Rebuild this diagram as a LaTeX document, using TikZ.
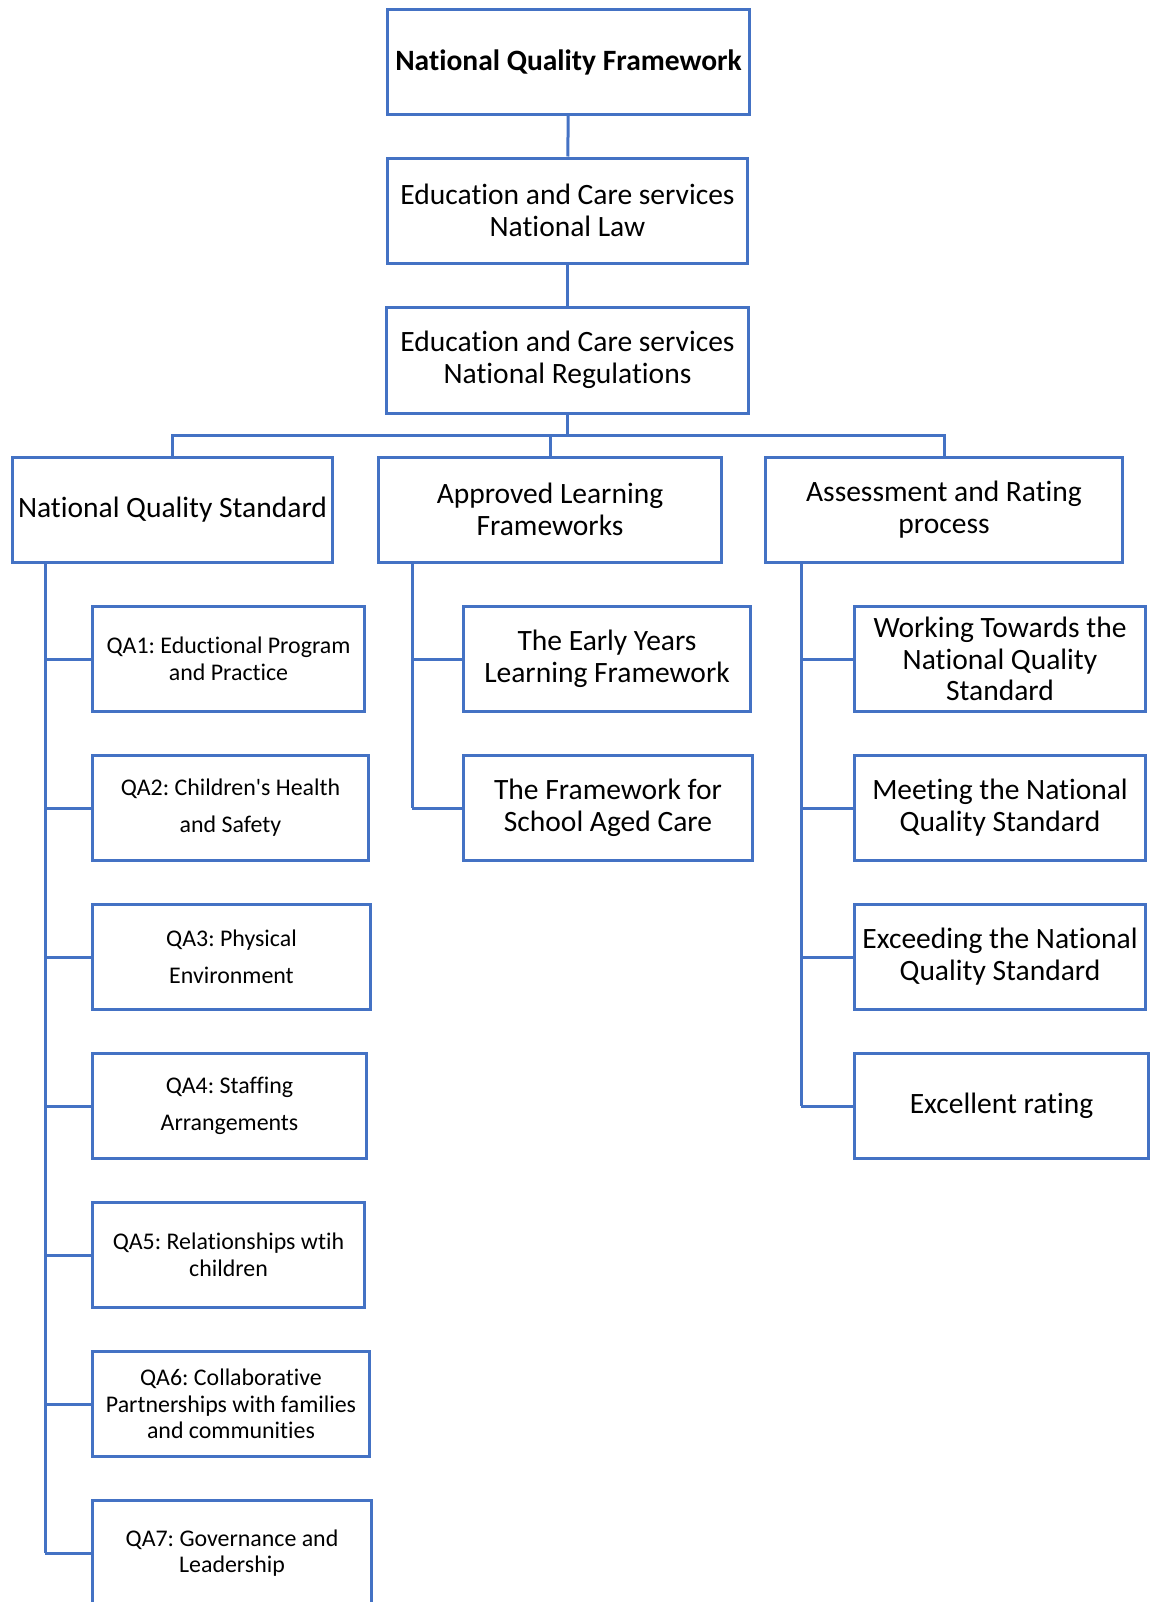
\documentclass[tikz,border=0pt]{standalone}
\usepackage{fontspec}
\setmainfont{Carlito}[Ligatures={TeXOff,CommonOff}]
\usepackage{xcolor}
\usetikzlibrary{positioning}
\definecolor{boxblue}{HTML}{4472C4}
\frenchspacing

\begin{document}
\begin{tikzpicture}[x=0.02cm,y=-0.02cm,
        box/.style={draw=boxblue,line width=0.06cm,fill=white,align=center,inner sep=0pt},
        boxsize/.style 2 args={minimum width=#1*0.02cm+2*0.02cm,minimum height=#2*0.02cm+3*0.02cm},
        link/.style={draw=boxblue,line width=0.06cm},
        bigtext/.style={font=\fontsize{16.8}{18.1}\selectfont},
        qatext/.style={font=\fontsize{13.6}{15.1}\selectfont},
        qawide/.style={font=\fontsize{13.6}{21}\selectfont}]
        \useasboundingbox (0,0) rectangle (1152,1602);

        \begin{scope}[every node/.append style={box,bigtext}]
            \node [boxsize={360}{102},font=\fontsize{16.8}{18.1}\selectfont\bfseries] (nqf) at (568.5,62) {National Quality Framework};
            \node [boxsize={358}{102}] (law) at (567.5,210.5) {Education and Care services\\National Law};
            \node [boxsize={360}{103}] (reg) at (567.5,360) {Education and Care services\\National Regulations};

            \node [boxsize={318}{102}] (nqs) at (172.5,509.5) {National Quality Standard};
            \node [boxsize={341}{102}] (alf) at (550,509.5) {Approved Learning\\Frameworks};
            \node [boxsize={355}{102}] (arp) at (944,509.5) {Assessment and Rating\\process};

            \node [boxsize={285}{102}] (eylf) at (607,659) {The Early Years\\Learning Framework};
            \node [boxsize={287}{102}] (fsac) at (608,808) {The Framework for\\School Aged Care};

            \node [boxsize={289}{102}] (r1) at (1000,659) {Working Towards the\\National Quality\\Standard};
            \node [boxsize={289}{102}] (r2) at (1000,808) {Meeting the National\\Quality Standard};
            \node [boxsize={289}{102}] (r3) at (1000,957) {Exceeding the National\\Quality Standard};
            \node [boxsize={292}{102}] (r4) at (1001.5,1106) {Excellent rating};
        \end{scope}

        \begin{scope}[every node/.append style={box,qatext}]
            \node [boxsize={270}{102}] (qa1) at (228.5,659) {QA1: Eductional Program\\and Practice};
            \node [boxsize={274}{102},qawide] (qa2) at (230.5,808) {QA2: Children's Health\\and Safety};
            \node [boxsize={276}{102},qawide] (qa3) at (231.5,957) {QA3: Physical\\Environment};
            \node [boxsize={272}{102},qawide] (qa4) at (229.5,1106) {QA4: Staffing\\Arrangements};
            \node [boxsize={270}{102}] (qa5) at (228.5,1255) {QA5: Relationships wtih\\children};
            \node [boxsize={275}{102}] (qa6) at (231,1404) {QA6: Collaborative\\Partnerships with families\\and communities};
            \node [boxsize={277}{102}] (qa7) at (232,1553) {QA7: Governance and\\Leadership};
        \end{scope}

        \coordinate (bus) at (0,435);
        \coordinate (lt) at (45,0);
        \coordinate (mt) at (412,0);
        \coordinate (rt) at (801,0);

        \draw[link] (nqf) -- (law);
        \draw[link] (law) -- (reg);
        \draw[link] (reg.south) -- (reg.south |- bus);
        \draw[link] (nqs.north) -- (nqs.north |- bus) -- (arp.north |- bus) -- (arp.north);
        \draw[link] (alf.north) -- (alf.north |- bus);

        \draw[link] (nqs.south -| lt) -- (qa7.west -| lt);
        \foreach \i in {1,...,7}
            \draw[link] (qa\i.west -| lt) -- (qa\i.west);

        \draw[link] (alf.south -| mt) -- (fsac.west -| mt);
        \foreach \n in {eylf,fsac}
            \draw[link] (\n.west -| mt) -- (\n.west);

        \draw[link] (arp.south -| rt) -- (r4.west -| rt);
        \foreach \n in {r1,r2,r3,r4}
            \draw[link] (\n.west -| rt) -- (\n.west);
\end{tikzpicture}
\end{document}
